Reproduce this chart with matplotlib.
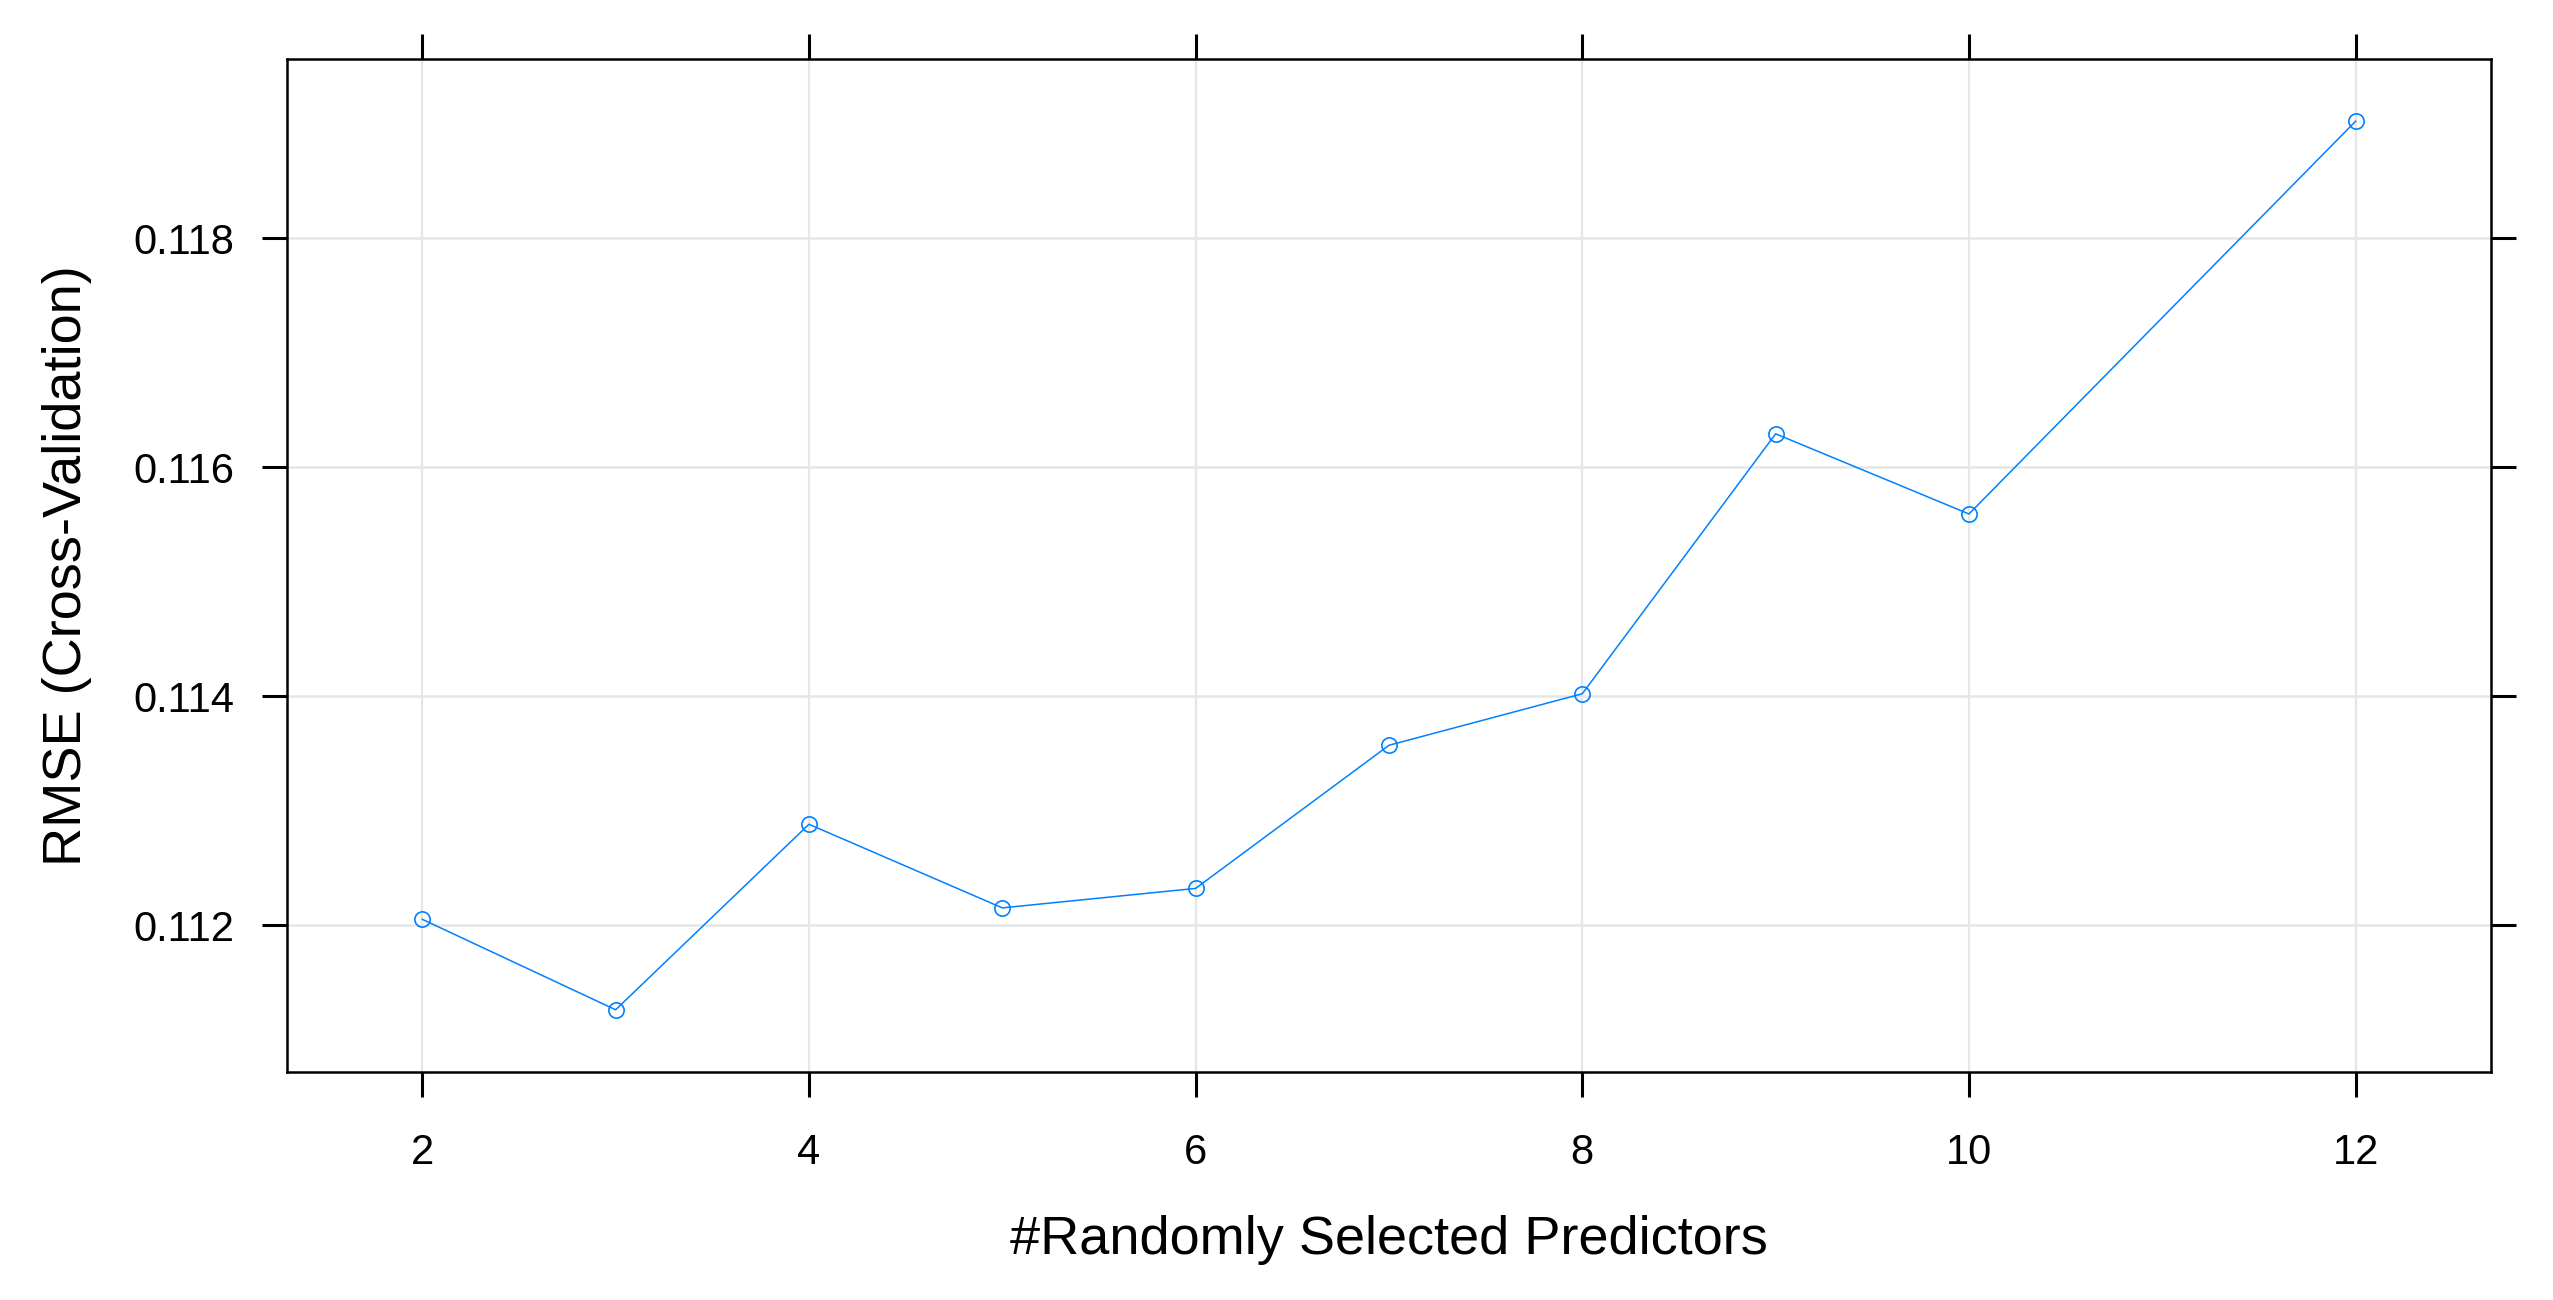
import numpy as np
import matplotlib
matplotlib.use('Agg')
import matplotlib.pyplot as plt

plt.rcParams['font.family'] = ['Liberation Sans', 'DejaVu Sans']

# mtry values and cross-validated RMSE
mtry = [2, 3, 4, 5, 6, 7, 8, 9, 10, 12]
rmse = [0.11205, 0.11126, 0.11288, 0.11215, 0.11232, 0.11357, 0.11402, 0.11629, 0.11559, 0.11902]

x_ticks = [2, 4, 6, 8, 10, 12]
y_ticks = [0.112, 0.114, 0.116, 0.118]
y_tick_labels = ['0.112', '0.114', '0.116', '0.118']

line_col = '#0080ff'
grid_col = '#e6e6e6'

fig = plt.figure(figsize=(25.53, 13), dpi=100)
ax = fig.add_axes([0.1124, 0.1754, 0.8633, 0.7792])

# lattice style padding (7% each side)
xmin, xmax = min(mtry), max(mtry)
ymin, ymax = min(rmse), max(rmse)
ax.set_xlim(xmin - 0.07 * (xmax - xmin), xmax + 0.07 * (xmax - xmin))
ax.set_ylim(ymin - 0.07 * (ymax - ymin), ymax + 0.07 * (ymax - ymin))

for xv in x_ticks:
    ax.axvline(xv, color=grid_col, lw=1.6, zorder=0)
for yv in y_ticks:
    ax.axhline(yv, color=grid_col, lw=1.8, zorder=0)

ax.plot(mtry, rmse, color=line_col, lw=1.1, marker='o', markersize=11,
        markerfacecolor='none', markeredgecolor=line_col, markeredgewidth=1.2, zorder=3)

ax.set_xticks(x_ticks)
ax.set_xticklabels([str(v) for v in x_ticks])
ax.set_yticks(y_ticks)
ax.set_yticklabels(y_tick_labels)

ax.tick_params(axis='both', which='major', direction='out', length=18, width=2.2,
               labelsize=30, top=True, right=True, labeltop=False, labelright=False)
ax.tick_params(axis='x', pad=26)
ax.tick_params(axis='y', pad=20)

for s in ax.spines.values():
    s.set_linewidth(1.8)

ax.set_xlabel('#Randomly Selected Predictors', fontsize=39, labelpad=30)
ax.set_ylabel('RMSE (Cross-Validation)', fontsize=39, labelpad=30)

fig.savefig('out.png', dpi=100)
